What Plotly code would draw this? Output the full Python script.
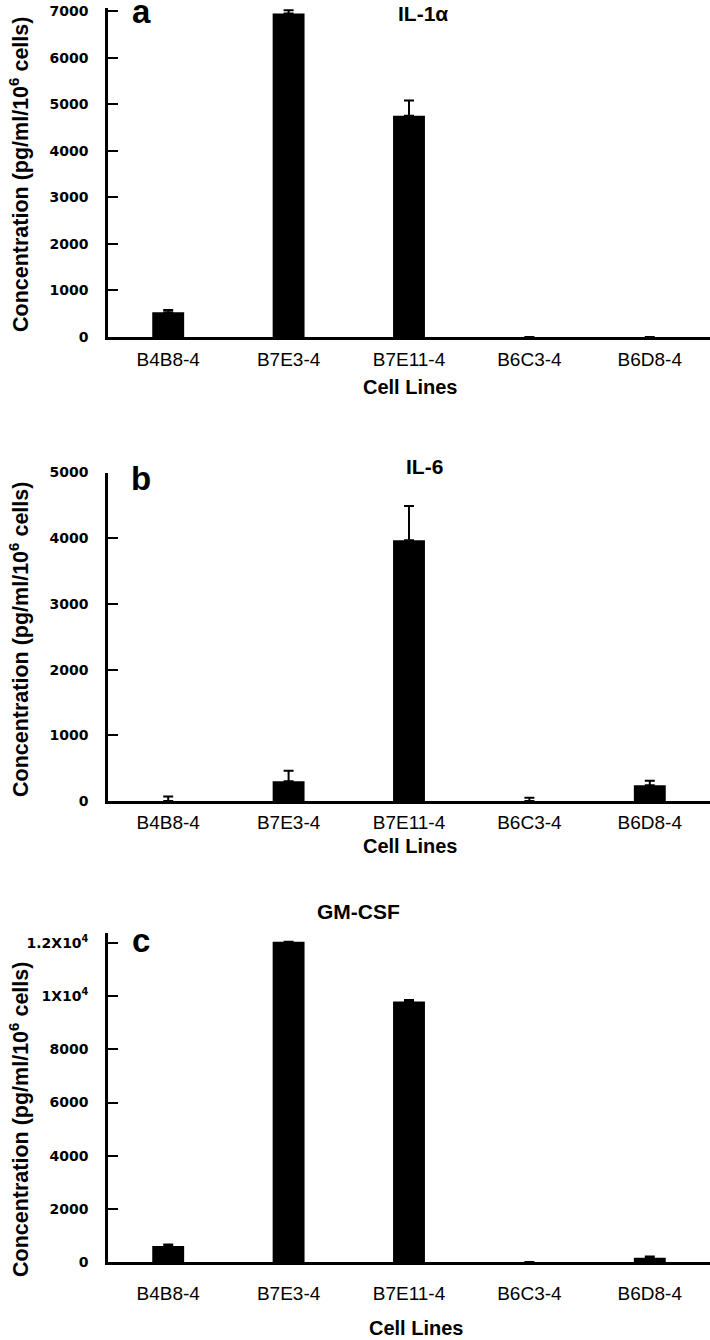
import plotly.graph_objects as go

cell_lines = ["B4B8-4", "B7E3-4", "B7E11-4", "B6C3-4", "B6D8-4"]

il1a_values = [530, 6950, 4750, 0, 0]
il1a_errors = [50, 70, 330, None, None]

il6_values = [0, 300, 3970, 0, 240]
il6_errors = [70, 160, 520, 50, 70]

gmcsf_values = [600, 12050, 9800, 0, 160]
gmcsf_errors = [60, None, 60, None, 50]

a_ticks = [0, 1000, 2000, 3000, 4000, 5000, 6000, 7000]
a_ticktext = ["0", "1000", "2000", "3000", "4000", "5000", "6000", "7000"]
b_ticks = [0, 1000, 2000, 3000, 4000, 5000]
b_ticktext = ["0", "1000", "2000", "3000", "4000", "5000"]
c_ticks = [0, 2000, 4000, 6000, 8000, 10000, 12000]
c_ticktext = ["0", "2000", "4000", "6000", "8000",
              "1X10<sup style='font-size:50%'>4</sup>",
              "1.2X10<sup style='font-size:50%'>4</sup>"]

W, H = 710, 1340
def py(p):
    return 1 - p / H

panels = [
    dict(vals=il1a_values, errs=il1a_errors, ticks=a_ticks, tt=a_ticktext,
         rng=[0, 7070], dom=[py(337), py(7.8)], xa="x", ya="y", standoff=3),
    dict(vals=il6_values, errs=il6_errors, ticks=b_ticks, tt=b_ticktext,
         rng=[0, 5000], dom=[py(801), py(472.5)], xa="x2", ya="y2", standoff=2),
    dict(vals=gmcsf_values, errs=gmcsf_errors, ticks=c_ticks, tt=c_ticktext,
         rng=[0, 12376], dom=[py(1262), py(933)], xa="x3", ya="y3", standoff=12),
]

fig = go.Figure()
xlabel_font = dict(family="Liberation Sans, Arial", size=19, color="black")
ytick_font = dict(family="DejaVu Sans, Liberation Sans", size=14, color="black", weight="bold")

layout = dict(
    width=W, height=H,
    margin=dict(l=0, r=0, t=0, b=0, autoexpand=False),
    paper_bgcolor="white", plot_bgcolor="white",
    showlegend=False,
    bargap=0.735,
)

for i, p in enumerate(panels):
    fig.add_trace(go.Bar(
        x=cell_lines, y=p["vals"],
        marker=dict(color="black", line=dict(width=0)),
        error_y=dict(type="data", symmetric=False, array=p["errs"],
                     arrayminus=[0] * len(p["errs"]),
                     color="black", thickness=2, width=5),
        xaxis=p["xa"], yaxis=p["ya"],
    ))
    sfx = "" if i == 0 else str(i + 1)
    layout["xaxis" + sfx] = dict(
        domain=[108 / W, 1], anchor=p["ya"], type="category",
        range=[-0.5, 4.5], automargin=False,
        showline=True, linecolor="black", linewidth=2.5,
        ticks="", showgrid=False, zeroline=False,
        tickfont=xlabel_font, ticklabelstandoff=p["standoff"],
    )
    layout["yaxis" + sfx] = dict(
        domain=p["dom"], anchor=p["xa"], range=p["rng"], automargin=False,
        tickvals=p["ticks"], ticktext=p["tt"],
        showline=True, linecolor="black", linewidth=2.5,
        ticks="inside", ticklen=10, tickwidth=2, tickcolor="black",
        showgrid=False, zeroline=False,
        tickfont=ytick_font, ticklabelstandoff=14,
    )

fig.update_layout(**layout)

title_font = dict(family="Liberation Sans, Arial", size=21, color="black", weight="bold")
letter_font = dict(family="Liberation Sans, Arial", size=33, color="black", weight="bold")
axis_title_font = dict(family="Liberation Sans, Arial", size=20, color="black", weight="bold")
ytitle_font = dict(family="Liberation Sans, Arial", size=21.5, color="black", weight="bold")

def ann(text, x, y, font, angle=0):
    fig.add_annotation(text=text, x=x / W, y=py(y), xref="paper", yref="paper",
                       xanchor="center", yanchor="middle", showarrow=False,
                       font=font, textangle=angle)

# panel letters
ann("a", 141, 12, letter_font)
ann("b", 141, 478, letter_font)
ann("c", 141, 940, letter_font)
# titles
ann("IL-1α", 423, 13, title_font)
ann("IL-6", 424, 466, title_font)
ann("GM-CSF", 358, 911, title_font)
# x-axis titles
ann("Cell Lines", 410, 387, axis_title_font)
ann("Cell Lines", 410, 846, axis_title_font)
ann("Cell Lines", 416, 1328, axis_title_font)
# y-axis titles
ytitle = "Concentration (pg/ml/10<sup>6</sup> cells)"
ann(ytitle, 19, 175, ytitle_font, -90)
ann(ytitle, 19, 640, ytitle_font, -90)
ann(ytitle, 19, 1120, ytitle_font, -90)

fig.write_html(
    "out.html",
    config={"displayModeBar": False},
    post_script="document.body.style.margin='0px';document.body.style.overflow='hidden';",
)
